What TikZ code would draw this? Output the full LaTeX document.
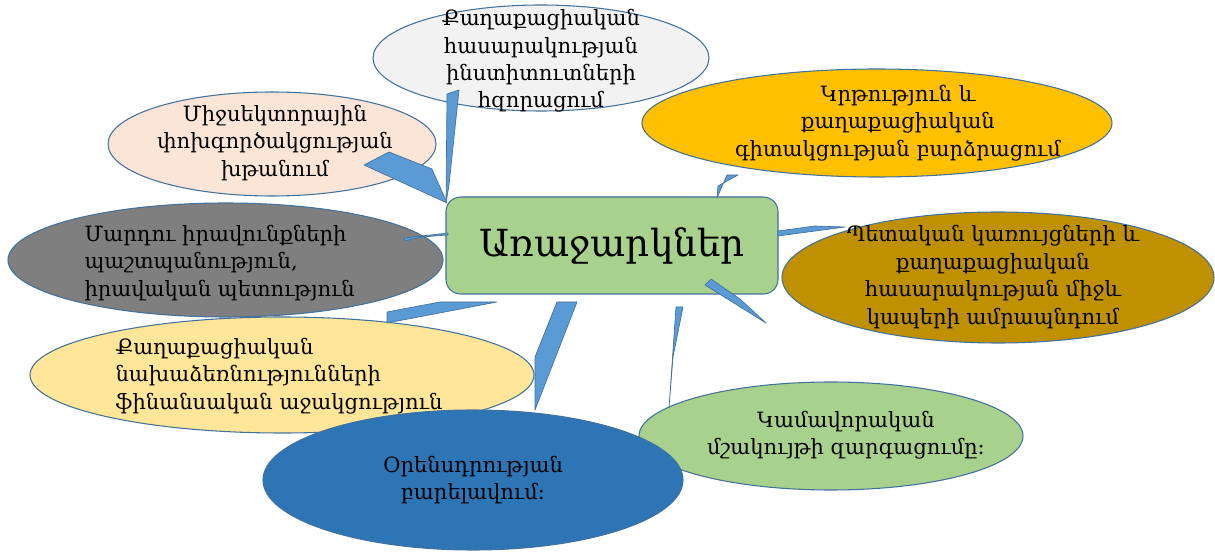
\documentclass[tikz,border=0pt]{standalone}
\usepackage{fontspec}
\setmainfont{DejaVu Serif}

\definecolor{cLine}{RGB}{65,113,156}
\definecolor{cTail}{RGB}{91,155,213}
\definecolor{cBox}{RGB}{169,209,142}
\definecolor{cTop}{RGB}{242,242,242}
\definecolor{cPeach}{RGB}{251,229,214}
\definecolor{cOrange}{RGB}{255,192,0}
\definecolor{cGray}{RGB}{127,127,127}
\definecolor{cGold}{RGB}{191,144,0}
\definecolor{cYellow}{RGB}{255,230,153}
\definecolor{cBlue}{RGB}{46,117,182}
\definecolor{cGreen}{RGB}{169,209,142}

\tikzset{every picture/.style={line width=0.75pt}}

\begin{document}
\begin{tikzpicture}[x=0.75pt,y=0.75pt,yscale=-1,xscale=1,
	bubble/.style={draw=cLine, line width=0.8pt},
	tail/.style={draw=cLine, fill=cTail, line width=0.5pt, line join=round},
	txt/.style={font=\fontsize{15.8}{20.6}\selectfont, align=center, inner sep=0pt},
	txtl/.style={txt, align=left, anchor=west}]
	\useasboundingbox (0,0) rectangle (1215,552);

	%Ellipse: top
	\coordinate (top) at (541,58);
	\draw [bubble, fill=cTop] (top) ellipse [x radius=168, y radius=53];
	\node [txt] (topTxt) at (541,61) {Քաղաքացիական\\հասարակության\\ինստիտուտների\\հզորացում};
	%Ellipse: peach
	\coordinate (peach) at (272,144);
	\draw [bubble, fill=cPeach] (peach) ellipse [x radius=164, y radius=52];
	\node [txt] (peachTxt) at (275,143) {Միջսեկտորային\\փոխգործակցության\\խթանում};
	%Ellipse: orange
	\coordinate (orange) at (877,123);
	\draw [bubble, fill=cOrange] (orange) ellipse [x radius=235, y radius=54];
	\node [txt] (orangeTxt) at (898,123) {Կրթություն և\\քաղաքացիական\\գիտակցության բարձրացում};
	%Ellipse: gray
	\coordinate (gray) at (225.5,260);
	\draw [bubble, fill=cGray] (gray) ellipse [x radius=217.5, y radius=57];
	\node [txtl] (grayTxt) at (84,263) {Մարդու իրավունքների\\պաշտպանություն,\\իրավական պետություն};
	%Ellipse: gold
	\coordinate (gold) at (998,277.5);
	\draw [bubble, fill=cGold] (gold) ellipse [x radius=216, y radius=65.5];
	\node [txt] (goldTxt) at (993,277) {Պետական կառույցների և\\քաղաքացիական\\հասարակության միջև\\կապերի ամրապնդում};
	%Ellipse: yellow
	\coordinate (yellow) at (282,375);
	\draw [bubble, fill=cYellow] (yellow) ellipse [x radius=252, y radius=58];
	\node [txtl] (yellowTxt) at (115,376) {Քաղաքացիական\\նախաձեռնությունների\\ֆինանսական աջակցություն};
	%Ellipse: green
	\coordinate (green) at (831,436);
	\draw [bubble, fill=cGreen] (green) ellipse [x radius=192, y radius=54];
	\node [txt] (greenTxt) at (846,435) {Կամավորական\\մշակույթի զարգացումը։};
	%Ellipse: blue
	\coordinate (blue) at (473,480);
	\draw [bubble, fill=cBlue] (blue) ellipse [x radius=210, y radius=70];
	\node [txt] (blueTxt) at (473,480) {Օրենսդրության\\բարելավում։};

	% Center box
	\node [draw=cLine, line width=0.8pt, fill=cBox, rounded corners=11pt, minimum width=249pt, minimum height=72.75pt, font=\fontsize{28}{34}\selectfont] (prop) at (612,245.5) {Առաջարկներ};

	%Tails
	\draw [tail] (447,94) -- (459,90) -- (449,185) -- (446,203) -- cycle ;
	\draw [tail] (364,165) -- (389,152) -- (432,169) -- (447,203) -- cycle ;
	\draw [tail] (404,238) -- (448,233) -- (448,235) -- (421,237) -- (405,241) -- cycle ;
	\draw [tail] (387,323) -- (387,312) -- (440,302) -- (497,302) -- cycle ;
	\draw [tail] (557,302) -- (577,302) -- (535,410) -- (535,357) -- cycle ;
	\draw [tail] (727,175) -- (738,175) -- (718,186) -- (717,198) -- cycle ;
	\draw [tail] (778,231) -- (815,226) -- (845,227) -- (778,236) -- cycle ;
	\draw [tail] (705,285) -- (711,279) -- (740,299) -- (766,323) -- cycle ;
	\draw [tail] (676,307) -- (683,307) -- (673,357) -- (669,408) -- cycle ;

\end{tikzpicture}
\end{document}
